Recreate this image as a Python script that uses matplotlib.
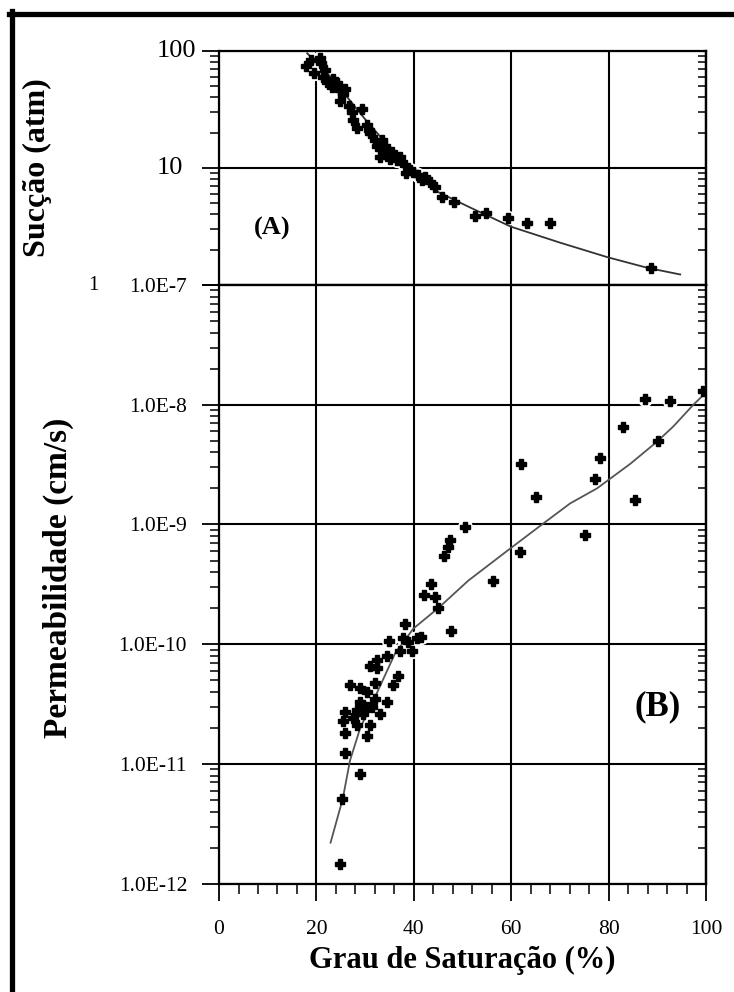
import numpy as np
import matplotlib.pyplot as plt
from matplotlib.ticker import LogLocator, MultipleLocator, NullFormatter
from matplotlib.transforms import blended_transform_factory
from matplotlib.lines import Line2D

plt.rcParams['font.family'] = ['Liberation Serif', 'DejaVu Serif']

# (A) succao x grau de saturacao
suc_sat = [17.9, 18.8, 19.5, 20.7, 20.9, 21.4, 21.8, 22.2, 23.1, 23.5, 24.2, 24.8,
           25.5, 25.9, 24.8, 26.6, 27.3, 27.6, 28.3, 29.3, 30.3, 30.7, 31.0, 32.0,
           32.5, 33.4, 33.7, 34.1, 34.4, 33.1, 35.1, 35.5, 36.5, 37.2, 38.2, 38.4,
           39.2, 39.9, 40.9, 41.6, 42.3, 43.3, 44.4, 45.7, 48.3, 52.6, 54.9, 59.4,
           63.3, 68.0, 88.6]
suc_atm = [74, 83, 65, 86, 79, 60, 68, 54, 49, 57, 53, 46,
           43, 47, 37, 34, 30, 25.6, 21.7, 32, 23, 21, 19.7, 17.3,
           15.3, 17.3, 14.1, 15.3, 13.3, 12.4, 12.0, 13.7, 11.6, 12.4, 10.5, 9.0,
           9.6, 9.3, 8.7, 7.9, 8.4, 7.6, 6.9, 5.65, 5.1, 3.86, 4.1, 3.7,
           3.35, 3.35, 1.4]
suc_fit_sat = [18.1, 22, 25, 30, 35, 39.6, 44.7, 51.5, 59.9, 70, 79.7, 88, 94.7]
suc_fit_atm = [95, 66, 47, 26, 15, 10, 6.3, 4.6, 3.15, 2.3, 1.73, 1.4, 1.23]

# (B) permeabilidade x grau de saturacao
perm_sat = [38.2, 34.8, 37.8, 38.9, 40.6, 39.6, 37.2, 34.4, 32.4, 31.0, 32.4, 26.9,
            29.0, 30.3, 32.0, 36.8, 35.8, 32.0, 29.0, 30.3, 29.6, 25.9, 25.5, 27.6,
            28.3, 31.0, 33.1, 34.4, 25.9, 30.3, 25.9, 29.0, 25.2, 24.8, 28.3, 31.4,
            41.4, 47.6, 42.0, 43.5, 44.4, 45.0, 46.1, 47.4, 47.1, 50.5, 56.3, 61.7,
            62.0, 65.0, 75.2, 77.3, 78.2, 83.0, 85.4, 87.5, 90.1, 92.5, 99.4]
perm_k = [1.48e-10, 1.07e-10, 1.12e-10, 1.05e-10, 1.12e-10, 8.7e-11, 8.7e-11, 7.9e-11,
          7.4e-11, 6.6e-11, 6.3e-11, 4.6e-11, 4.3e-11, 4.0e-11, 4.7e-11, 5.4e-11,
          4.6e-11, 3.5e-11, 3.3e-11, 3.0e-11, 2.6e-11, 2.7e-11, 2.3e-11, 2.4e-11,
          2.1e-11, 2.1e-11, 2.6e-11, 3.3e-11, 1.8e-11, 1.7e-11, 1.23e-11, 8.3e-12,
          5.1e-12, 1.45e-12, 2.8e-11, 3.0e-11, 1.15e-10, 1.29e-10, 2.6e-10, 3.2e-10,
          2.5e-10, 2.0e-10, 5.5e-10, 7.4e-10, 6.5e-10, 9.5e-10, 3.4e-10, 5.9e-10,
          3.2e-9, 1.7e-9, 8.1e-10, 2.4e-9, 3.6e-9, 6.5e-9, 1.6e-9, 1.12e-8,
          5.0e-9, 1.07e-8, 1.29e-8]
perm_fit_sat = [22.9, 25.4, 26.9, 29.0, 32.4, 36.1, 39.9, 45.0, 51.2, 59.8, 66.6,
                72.1, 77.6, 84.4, 89.9, 93.3, 97.4, 99.4]
perm_fit_k = [2.2e-12, 5.1e-12, 1.07e-11, 2.0e-11, 3.9e-11, 8.3e-11, 1.35e-10, 2.0e-10,
              3.4e-10, 6.3e-10, 1.02e-9, 1.5e-9, 2.0e-9, 3.2e-9, 4.9e-9, 6.6e-9,
              1.0e-8, 1.2e-8]

x_ticks = [0, 20, 40, 60, 80, 100]
perm_ticks = [1e-12, 1e-11, 1e-10, 1e-9, 1e-8, 1e-7]
perm_labels = ['1.0E-12', '1.0E-11', '1.0E-10', '1.0E-9', '1.0E-8', '1.0E-7']

fig = plt.figure(figsize=(7.34, 9.92), dpi=100)
ax1 = fig.add_axes([0.2984, 0.7127, 0.6635, 0.2362])
ax2 = fig.add_axes([0.2984, 0.1092, 0.6635, 0.6035])


def style(ax):
    ax.set_xlim(0, 100)
    ax.set_yscale('log')
    for s in ax.spines.values():
        s.set_linewidth(1.6)
    ax.set_xticks(x_ticks)
    ax.grid(True, which='major', color='k', lw=1.5)
    ax.yaxis.set_minor_locator(LogLocator(base=10, subs=np.arange(2, 10)))
    ax.yaxis.set_minor_formatter(NullFormatter())
    ax.tick_params(axis='y', which='major', direction='out', length=12, width=1.3)
    ax.tick_params(axis='y', which='minor', direction='out', length=6.5, width=1.1)
    right = ax.secondary_yaxis('right')
    right.yaxis.set_minor_locator(LogLocator(base=10, subs=np.arange(2, 10)))
    right.yaxis.set_major_formatter(NullFormatter())
    right.yaxis.set_minor_formatter(NullFormatter())
    right.tick_params(which='minor', direction='in', length=6, width=1.1)
    right.tick_params(which='major', length=0)
    right.spines['right'].set_linewidth(1.6)


def points(ax, x, y):
    ax.plot(x, y, 'o', ms=10, color='white', zorder=2)
    ax.plot(x, y, 'P', ms=6.5, color='k', mec='k', mew=1.0, zorder=3)


# (A)
style(ax1)
ax1.set_ylim(1, 100)
ax1.set_yticks([1, 10, 100])
ax1.set_yticklabels(['', '', ''])
ax1.tick_params(axis='x', which='both', length=0, labelbottom=False)
ax1.plot(suc_fit_sat, suc_fit_atm, color='#333333', lw=1.3, zorder=2.2)
points(ax1, suc_sat, suc_atm)
ax1.text(11, 3.05, '(A)', fontsize=19, fontweight='bold', ha='center', va='center')
tr = blended_transform_factory(fig.transFigure, ax1.transData)
ax1.text(157 / 734, 100, '100', transform=tr, fontsize=19, ha='left', va='center')
ax1.text(157 / 734, 10, '10', transform=tr, fontsize=19, ha='left', va='center')
ax1.text(88 / 734, 1, '1', transform=tr, fontsize=15, ha='left', va='center')

# (B)
style(ax2)
ax2.set_ylim(1e-12, 1e-7)
ax2.set_yticks(perm_ticks)
ax2.set_yticklabels(perm_labels, fontsize=15.5)
ax2.tick_params(axis='y', which='major', pad=11)
ax2.xaxis.set_minor_locator(MultipleLocator(4))
ax2.tick_params(axis='x', which='major', direction='out', length=12, width=1.3,
                labelsize=15.5, pad=14)
ax2.tick_params(axis='x', which='minor', direction='out', length=7, width=1.1)
ax2.plot(perm_fit_sat, perm_fit_k, color='#555555', lw=1.3, zorder=2.2)
points(ax2, perm_sat, perm_k)
ax2.text(90.1, 3.0e-11, '(B)', fontsize=25, fontweight='bold', ha='center', va='center')

fig.text(462 / 734, 0.032, 'Grau de Saturação (%)', fontsize=22,
         fontweight='bold', ha='center', va='center')
fig.text(37 / 734, 1 - 168 / 992, 'Sucção (atm)', fontsize=23, fontweight='bold',
         rotation=90, ha='center', va='center')
fig.text(58 / 734, 1 - 578 / 992, 'Permeabilidade (cm/s)', fontsize=24, fontweight='bold',
         rotation=90, ha='center', va='center')

# moldura
fig.add_artist(Line2D([11.5 / 734, 11.5 / 734], [0, 1 - 11 / 992], transform=fig.transFigure,
                      color='k', lw=3.8))
fig.add_artist(Line2D([9 / 734, 1], [1 - 13.5 / 992, 1 - 13.5 / 992], transform=fig.transFigure,
                      color='k', lw=3.8))

fig.savefig('out.png', dpi=100)
